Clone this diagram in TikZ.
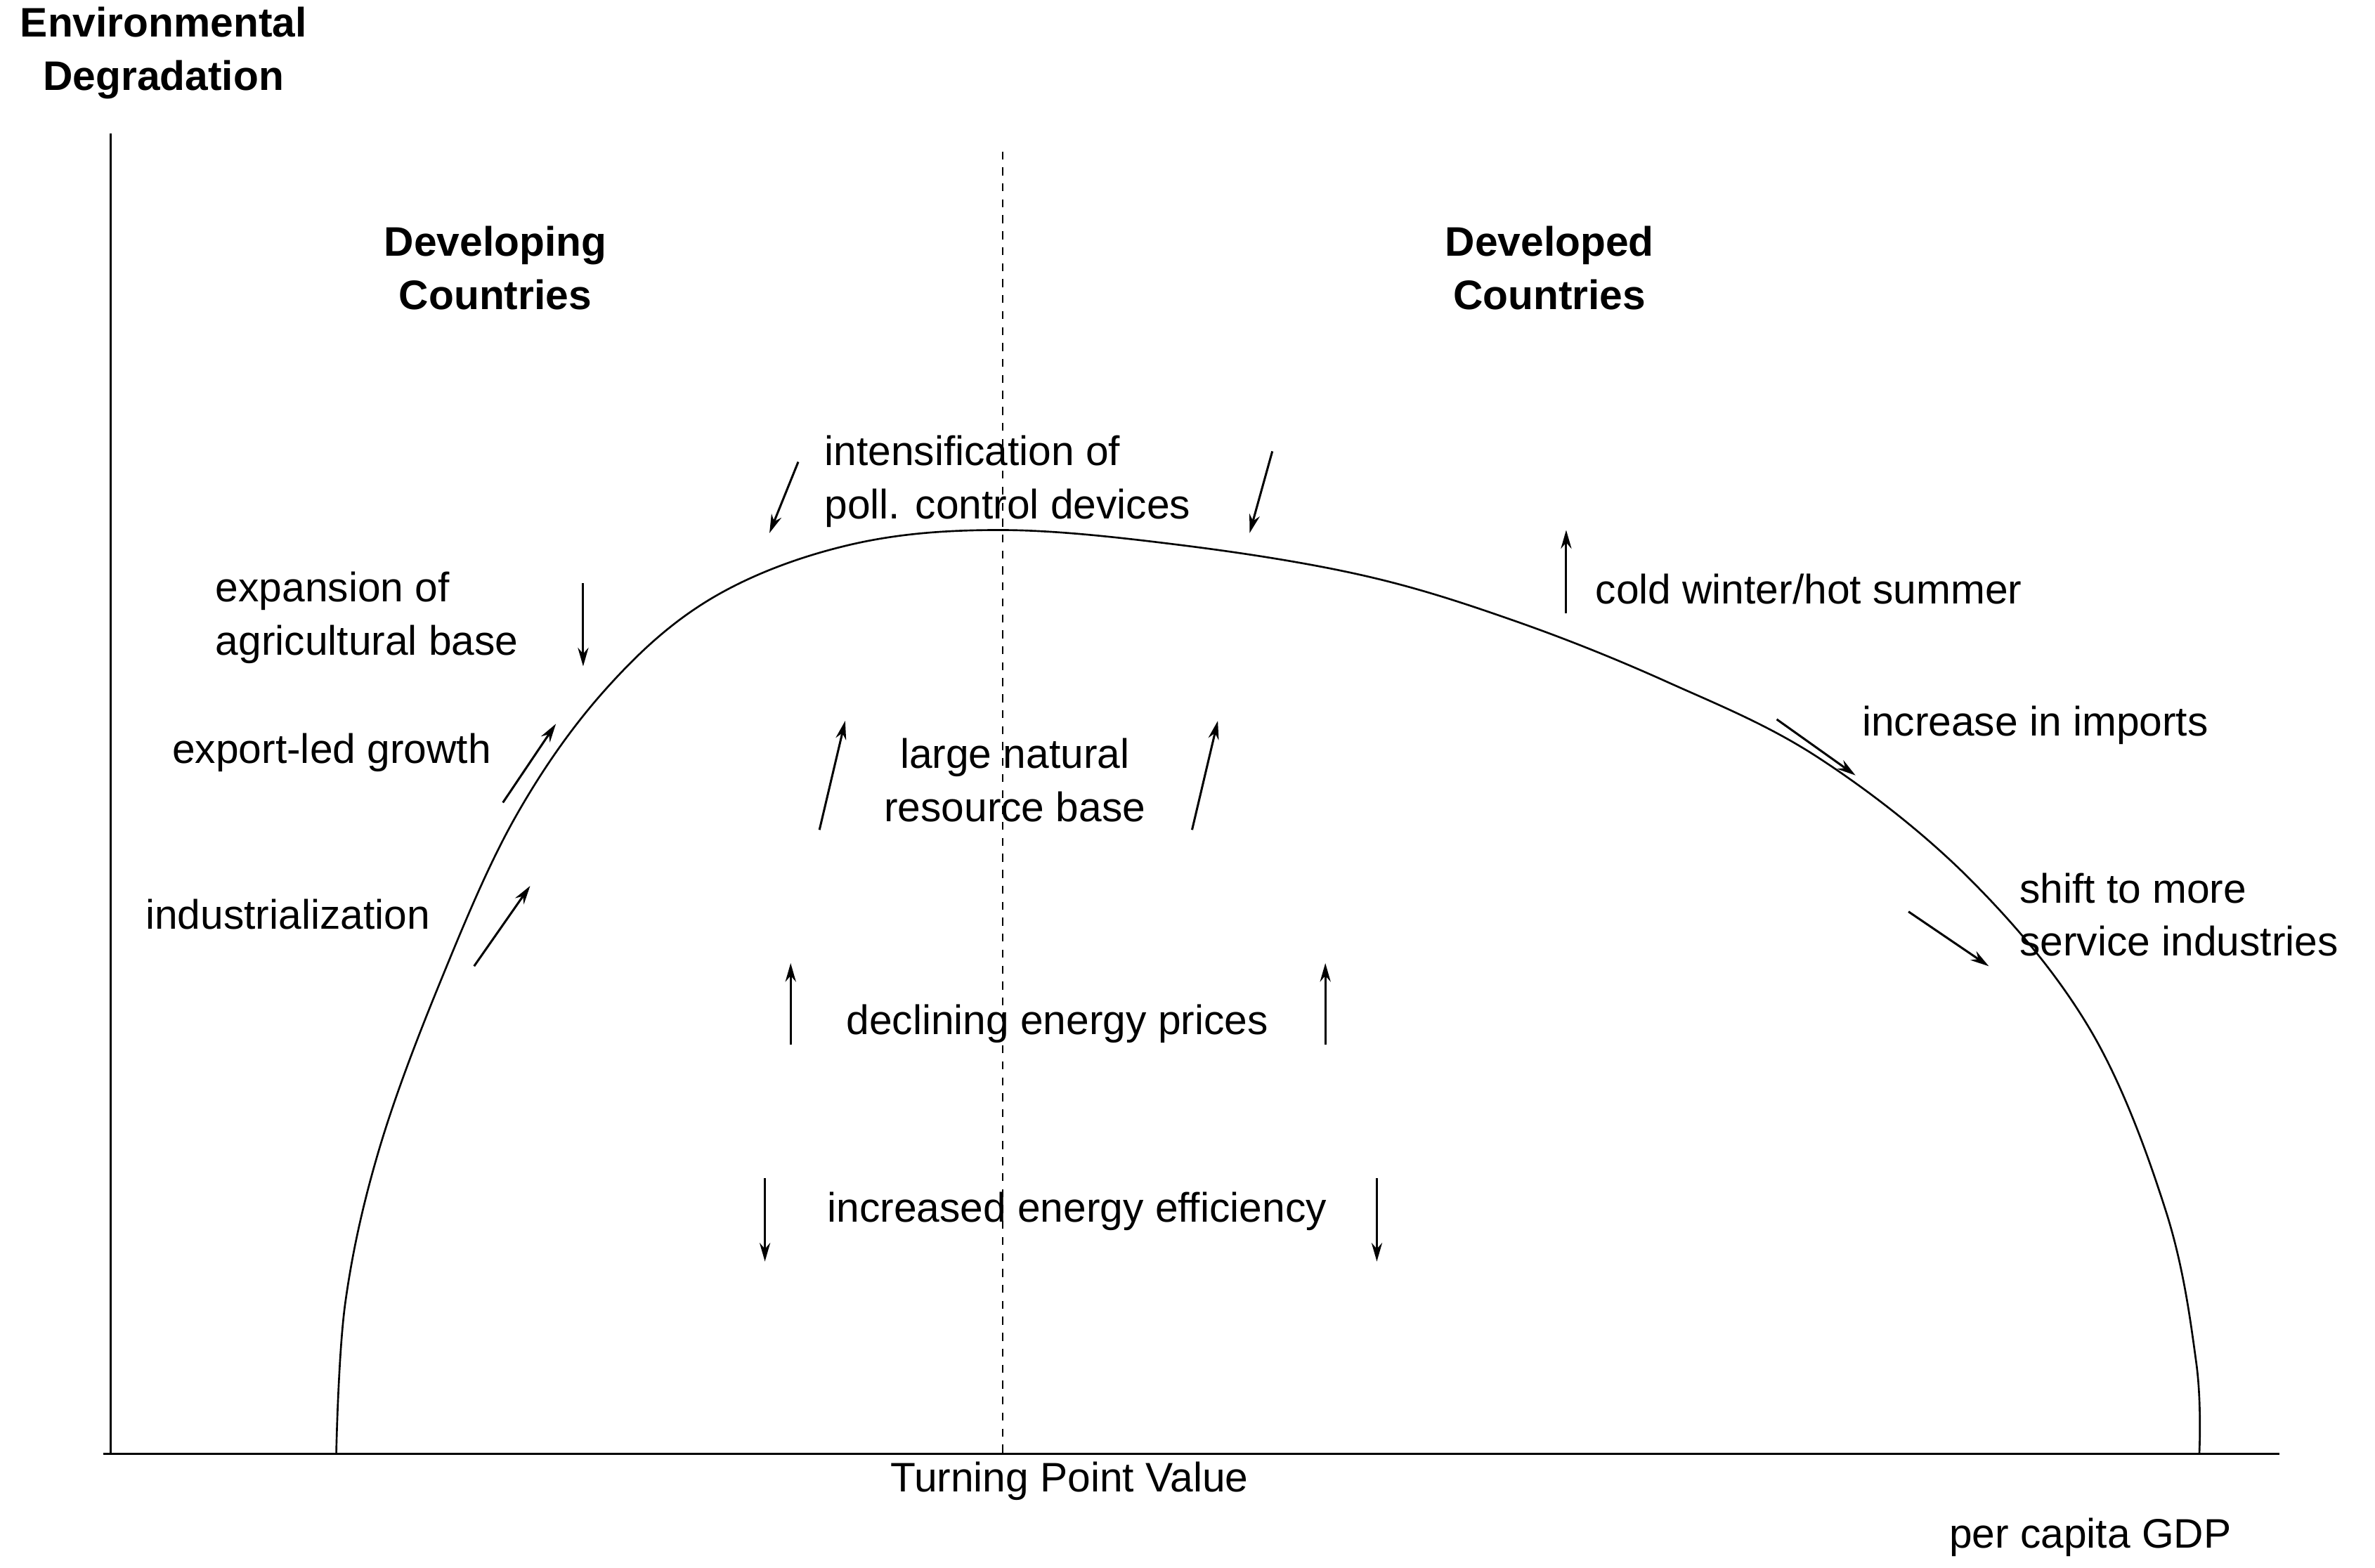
\documentclass[tikz,border=0pt]{standalone}
\usepackage{fontspec}
\usetikzlibrary{arrows.meta}
\setmainfont{Liberation Sans}
\begin{document}
\begin{tikzpicture}[x=0.02cm,y=-0.02cm,
  lab/.style={font=\fontsize{15.5}{20}\selectfont,inner sep=0pt,align=center},
  hd/.style={font=\fontsize{15.5}{20}\selectfont\bfseries,inner sep=0pt,align=center},
  ar/.style={-{Stealth[length=7pt,width=4pt]},line width=0.8pt}]
\useasboundingbox (0,0) rectangle (1568,1035);
\coordinate (yt) at (73,88); \coordinate (o) at (73,960);
\coordinate (xl) at (68,960); \coordinate (xr) at (1505,960);
\draw[line width=0.8pt] (yt) -- (o); \draw[line width=0.8pt] (xl) -- (xr);
\coordinate (dt) at (662,100); \coordinate (db) at (662,960);
\draw[dashed,line width=0.7pt] (dt) -- (db);
\draw[line width=0.7pt] plot[smooth,tension=0.6] coordinates {(222,960) (228,860) (250,760) (290,650) (340,540) (400,455) (470,395) (560,360) (660,350) (780,360) (900,380) (1000,410) (1100,450) (1200,500) (1300,580) (1380,680) (1430,800) (1450,900) (1452,960)};
\node[hd] (ed) at (108,35) {Environmental\\Degradation};
\node[hd] (dg) at (327,177) {Developing\\Countries};
\node[hd] (dd) at (1023,177) {Developed\\Countries};
\node[lab,align=left,anchor=west] (ip) at (544,318) {intensification of\\poll. control devices};
\node[lab,align=left,anchor=west] (ex) at (142,408) {expansion of\\agricultural base};
\node[lab] (el) at (219,497) {export-led growth};
\node[lab] (in) at (190,604) {industrialization};
\node[lab] (ln) at (670,515) {large natural\\resource base};
\node[lab,anchor=west] (cw) at (1053,389) {cold winter/hot summer};
\node[lab,anchor=west] (ii) at (1229,479) {increase in imports};
\node[lab,align=left,anchor=west] (sh) at (1333,604) {shift to more\\service industries};
\node[lab] (de) at (698,676) {declining energy prices};
\node[lab] (ie) at (711,800) {increased energy efficiency};
\node[lab] (tp) at (706,978) {Turning Point Value};
\node[lab] (gdp) at (1380,1015) {per capita GDP};
\foreach \a/\b in {{(527,305)}/{(508,352)},{(840,298)}/{(825,352)},{(385,385)}/{(385,440)},{(332,530)}/{(367,478)},{(313,638)}/{(350,585)},{(541,548)}/{(558,476)},{(787,548)}/{(804,476)},{(1034,405)}/{(1034,350)},{(1173,475)}/{(1225,512)},{(1260,602)}/{(1313,638)},{(522,690)}/{(522,636)},{(875,690)}/{(875,636)},{(505,778)}/{(505,833)},{(909,778)}/{(909,833)}}
  \draw[ar] \a -- \b;
\end{tikzpicture}
\end{document}
